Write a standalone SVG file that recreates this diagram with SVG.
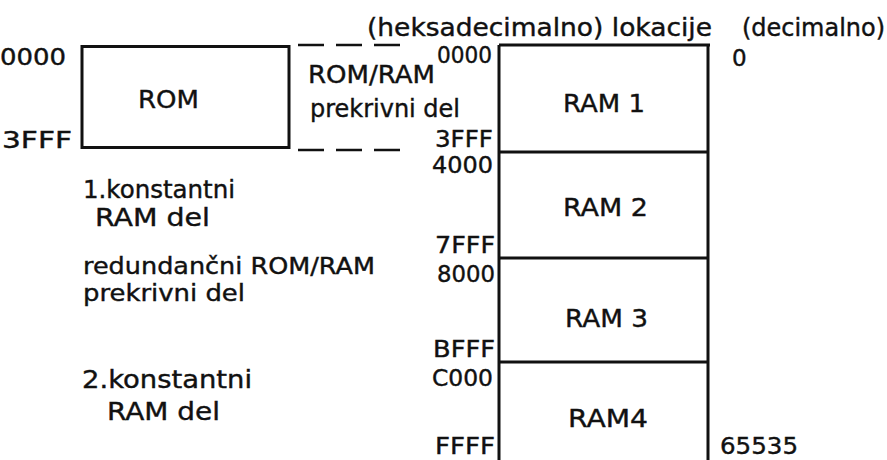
<svg xmlns="http://www.w3.org/2000/svg" width="887" height="460" viewBox="0 0 887 460">
<style>
text{font-family:"DejaVu Sans","Liberation Sans",sans-serif;font-size:24px;fill:#111;stroke:#111;stroke-width:0.4;}
.hex{font-size:23px;}
.lbl{font-size:25px;}
.sm{font-size:23px;}
.box{fill:none;stroke:#111;stroke-width:3;}
.dash{fill:none;stroke:#111;stroke-width:2.5;stroke-dasharray:26 12;}
</style>
<rect width="887" height="460" fill="#fff"/>
<g id="header">
<text x="367" y="36" textLength="345" lengthAdjust="spacingAndGlyphs">(heksadecimalno) lokacije</text>
<text x="742" y="36" textLength="143" lengthAdjust="spacingAndGlyphs">(decimalno)</text>
</g>
<g id="rom">
<rect class="box" x="82" y="46.5" width="207" height="101"/>
<text class="lbl" x="138" y="108" textLength="61" lengthAdjust="spacingAndGlyphs">ROM</text>
<text class="hex" x="0" y="65" textLength="66" lengthAdjust="spacingAndGlyphs">0000</text>
<text class="hex" x="2" y="148" textLength="70" lengthAdjust="spacingAndGlyphs">3FFF</text>
</g>
<g id="overlap-label">
<text x="308" y="83" textLength="127" lengthAdjust="spacingAndGlyphs">ROM/RAM</text>
<text x="310" y="117" textLength="150" lengthAdjust="spacingAndGlyphs">prekrivni del</text>
</g>
<g id="ram1">
<path class="box" d="M499 45 H710 M499 45 V152 M708 45 V152 M499 152 H708"/>
<text class="lbl" x="563" y="112" textLength="82" lengthAdjust="spacingAndGlyphs">RAM 1</text>
<text class="hex" x="437" y="63" textLength="55" lengthAdjust="spacingAndGlyphs">0000</text>
<text class="hex" x="435" y="147" textLength="58" lengthAdjust="spacingAndGlyphs">3FFF</text>
<text class="hex" x="732" y="66">0</text>
</g>
<g id="ram2">
<path class="box" d="M499 152 V258 M708 152 V258 M499 258 H708"/>
<text class="lbl" x="563" y="216" textLength="85" lengthAdjust="spacingAndGlyphs">RAM 2</text>
<text class="hex" x="432" y="173" textLength="61" lengthAdjust="spacingAndGlyphs">4000</text>
<text class="hex" x="435" y="253" textLength="60" lengthAdjust="spacingAndGlyphs">7FFF</text>
</g>
<g id="ram3">
<path class="box" d="M499 258 V362 M708 258 V362 M499 362 H708"/>
<text class="lbl" x="565" y="327" textLength="83" lengthAdjust="spacingAndGlyphs">RAM 3</text>
<text class="hex" x="437" y="282" textLength="58" lengthAdjust="spacingAndGlyphs">8000</text>
<text class="hex" x="433" y="357" textLength="62" lengthAdjust="spacingAndGlyphs">BFFF</text>
</g>
<g id="ram4">
<path class="box" d="M499 362 V460 M708 362 V460"/>
<text class="lbl" x="568" y="427" textLength="80" lengthAdjust="spacingAndGlyphs">RAM4</text>
<text class="hex" x="432" y="386" textLength="61" lengthAdjust="spacingAndGlyphs">C000</text>
<text class="hex" x="435" y="454" textLength="60" lengthAdjust="spacingAndGlyphs">FFFF</text>
<text class="hex" x="720" y="454" textLength="78" lengthAdjust="spacingAndGlyphs">65535</text>
</g>
<g id="left-labels">
<text x="83" y="198" textLength="152" lengthAdjust="spacingAndGlyphs">1.konstantni</text>
<text x="95" y="226" textLength="115" lengthAdjust="spacingAndGlyphs">RAM del</text>
<text class="sm" x="83" y="274" textLength="292" lengthAdjust="spacingAndGlyphs">redundančni ROM/RAM</text>
<text class="sm" x="83" y="301" textLength="162" lengthAdjust="spacingAndGlyphs">prekrivni del</text>
<text x="82" y="388" textLength="170" lengthAdjust="spacingAndGlyphs">2.konstantni</text>
<text x="107" y="420" textLength="113" lengthAdjust="spacingAndGlyphs">RAM del</text>
</g>
<g id="connectors">
<path class="dash" d="M298 45 H408"/>
<path class="dash" d="M298 150 H400"/>
</g>
</svg>
